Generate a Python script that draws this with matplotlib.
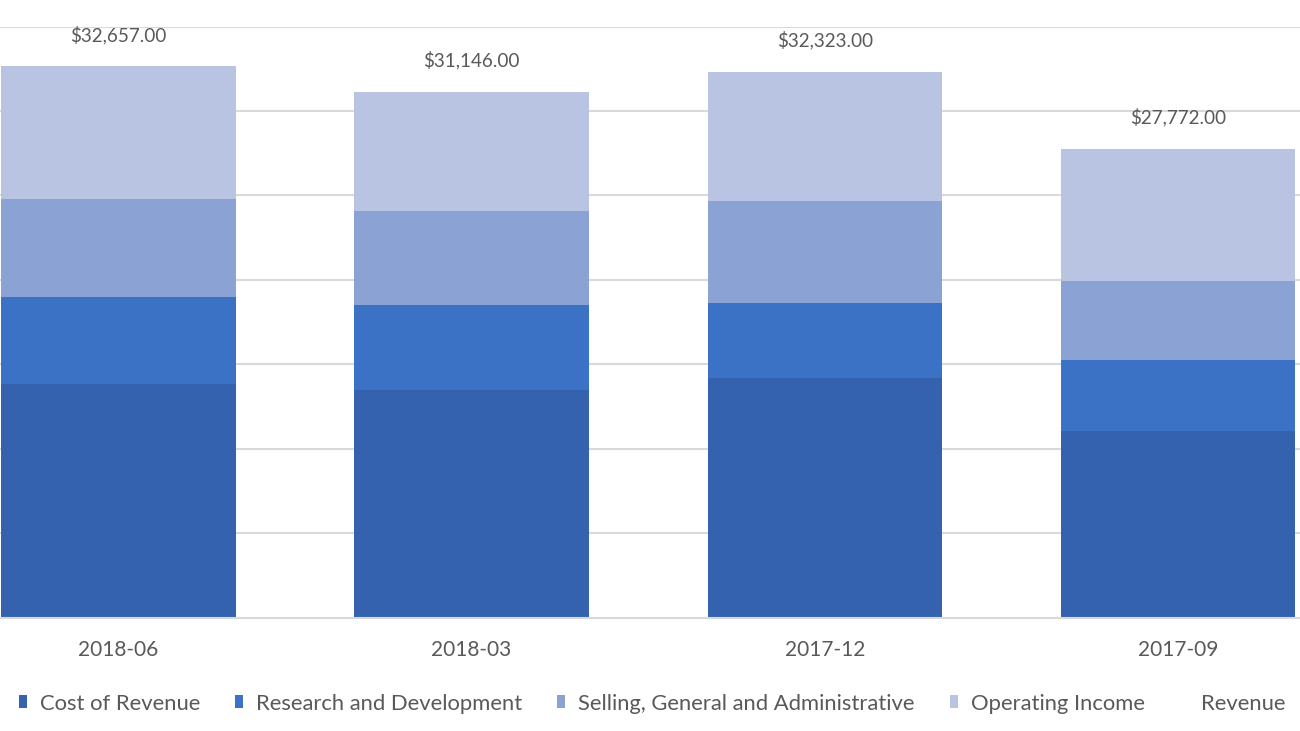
import matplotlib
matplotlib.use("Agg")
import matplotlib.pyplot as plt
from matplotlib.patches import Patch
from matplotlib.lines import Line2D
import numpy as np

# Quarterly figures
quarters = ["2018-06", "2018-03", "2017-12", "2017-09"]
cost_of_revenue = [13830, 13467, 14180, 11030]
research_dev = [5130, 5039, 4450, 4250]
selling_admin = [5850, 5592, 6060, 4650]
operating_income = [7847, 7048, 7633, 7842]
revenue = [32657, 31146, 32323, 27772]

series_names = ["Cost of Revenue", "Research and Development",
                "Selling, General and Administrative", "Operating Income"]
series_colors = ["#3462AF", "#3C72C5", "#8BA2D5", "#B8C4E2"]

plt.rcParams['font.family'] = ['Lato', 'DejaVu Sans']
text_color = "#595959"
grid_color = "#D9D9D9"


def plot_stack():
    fig = plt.figure(figsize=(13, 7.31), dpi=100)
    # plot area is wider than the picture (the screenshot cuts it off on both sides)
    ax = fig.add_axes([-58.2 / 1300, 113.5 / 731, 1412.8 / 1300, 590.8 / 731])

    x = np.arange(len(quarters))
    stacks = [cost_of_revenue, research_dev, selling_admin, operating_income]
    bottom = np.zeros(len(quarters))
    for values, name, color in zip(stacks, series_names, series_colors):
        ax.bar(x, values, width=0.664, bottom=bottom, color=color,
               label=name, zorder=2)
        bottom += np.array(values)

    # Revenue only shows up as labels above the bars
    ax.plot(x, revenue, linestyle='none', marker=None)
    for xi, val in zip(x, revenue):
        ax.annotate(f"${val:,.2f}", (xi, val), xytext=(0, 22.7),
                    textcoords='offset points', ha='center', va='center',
                    fontsize=13.6, color=text_color)

    ax.set_xlim(-0.5, 3.5)
    ax.set_ylim(0, 35000)
    ax.set_yticks(np.arange(0, 35001, 5000))
    ax.set_xticks(x)
    ax.set_xticklabels(quarters, fontsize=15, color=text_color)
    ax.tick_params(axis='x', length=0, pad=16)
    ax.tick_params(axis='y', left=False, labelleft=False)

    ax.grid(axis='y', color=grid_color, linewidth=1.5, zorder=0)
    ax.set_axisbelow(True)
    for side in ['top', 'right', 'left']:
        ax.spines[side].set_visible(False)
    ax.spines['bottom'].set_color(grid_color)
    ax.spines['bottom'].set_linewidth(1.5)

    # Legend along the bottom, Revenue has no marker
    handles = [Patch(facecolor=c, edgecolor='none') for c in series_colors]
    handles.append(Line2D([], [], linestyle='none'))
    labels = series_names + ["Revenue"]
    fig.legend(handles, labels, loc='center', bbox_to_anchor=(652 / 1300, 1 - 703.5 / 731),
               ncol=5, frameon=False, fontsize=15.8, labelcolor=text_color,
               handlelength=0.35, handleheight=0.55, handletextpad=0.6,
               columnspacing=1.6, borderpad=0)

    fig.savefig("out.png", dpi=100, facecolor='white')


if __name__ == "__main__":
    plot_stack()
